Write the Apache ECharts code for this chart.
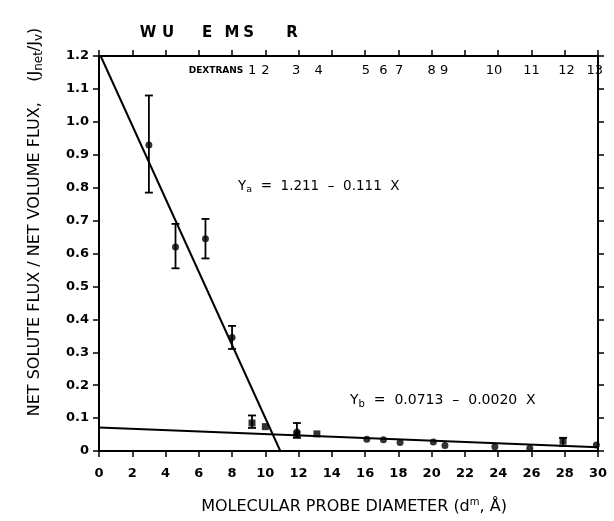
<!DOCTYPE html>
<html>
<head>
    <meta charset="UTF-8">
    <title>Net solute flux vs probe diameter</title>
    <script src="https://cdn.jsdelivr.net/npm/echarts@6/dist/echarts.min.js"></script>
</head>
<body style="margin:0">
    <div id="chart" style="width:614px;height:521px;"></div>
    <script type="text/javascript">
        var chart = echarts.init(document.getElementById('chart'));

        // data
        var upperX = [3.0, 4.6, 6.4, 8.0];
        var upperY = [0.93, 0.62, 0.645, 0.345];
        var upperLo = [0.785, 0.555, 0.585, 0.31];
        var upperHi = [1.08, 0.69, 0.705, 0.38];

        var circX = [11.9, 16.1, 17.1, 18.1, 20.1, 20.8, 23.8, 25.9, 29.9];
        var circY = [0.058, 0.036, 0.034, 0.026, 0.027, 0.017, 0.013, 0.008, 0.018];
        var sqX = [9.2, 10.0, 11.9, 13.1, 27.9];
        var sqY = [0.085, 0.074, 0.05, 0.052, 0.03];
        var lowErrX = [9.2, 11.9, 27.9];
        var lowErrLo = [0.07, 0.04, 0.015];
        var lowErrHi = [0.108, 0.085, 0.04];

        // fitted lines (endpoints)
        var fitA = [[0.1, 1.2], [10.9, 0.0]];
        var fitB = [[0, 0.0713], [30, 0.0113]];

        var topLetters = ['W', 'U', 'E', 'M', 'S', 'R'];
        var topLetterX = [2.95, 4.15, 6.5, 8.0, 9.0, 11.6];
        var dexLabels = ['1', '2', '3', '4', '5', '6', '7', '8', '9', '10', '11', '12', '13'];
        var dexX = [9.2, 10.0, 11.85, 13.2, 16.05, 17.1, 18.05, 20.0, 20.75, 23.75, 26.0, 28.1, 29.8];

        var FONT = 'DejaVu Sans';
        function zip(a, b) { return a.map(function (v, i) { return [v, b[i]]; }); }

        var errData = upperX.map(function (x, i) { return [x, upperLo[i], upperHi[i]]; })
            .concat(lowErrX.map(function (x, i) { return [x, lowErrLo[i], lowErrHi[i]]; }));

        function renderErr(params, api) {
            var lo = api.coord([api.value(0), api.value(1)]);
            var hi = api.coord([api.value(0), api.value(2)]);
            var w = 4;
            var st = { stroke: '#000', lineWidth: 1.8 };
            return {
                type: 'group',
                children: [
                    { type: 'line', shape: { x1: hi[0], y1: hi[1], x2: lo[0], y2: lo[1] }, style: st },
                    { type: 'line', shape: { x1: hi[0] - w, y1: hi[1], x2: hi[0] + w, y2: hi[1] }, style: st },
                    { type: 'line', shape: { x1: lo[0] - w, y1: lo[1], x2: lo[0] + w, y2: lo[1] }, style: st }
                ]
            };
        }

        var axisLine = { onZero: false, lineStyle: { color: '#000', width: 2 } };
        var axisTick = { lineStyle: { color: '#000', width: 1.5 }, length: 6 };

        var option = {
            animation: false,
            backgroundColor: '#fff',
            grid: { left: 99, right: 16, top: 56, bottom: 70 },
            xAxis: [
                {
                    type: 'value', min: 0, max: 30, interval: 2,
                    axisLine: axisLine, axisTick: axisTick, splitLine: { show: false },
                    axisLabel: { color: '#000', fontFamily: FONT, fontWeight: 'bold', fontSize: 13, margin: 16 }
                },
                {
                    type: 'value', position: 'top', min: 0, max: 30, interval: 2,
                    axisLine: axisLine, axisTick: axisTick, splitLine: { show: false },
                    axisLabel: { show: false }
                }
            ],
            yAxis: [
                {
                    type: 'value', min: 0, max: 1.2, interval: 0.1,
                    axisLine: axisLine, axisTick: axisTick, splitLine: { show: false },
                    axisLabel: {
                        color: '#000', fontFamily: FONT, fontWeight: 'bold', fontSize: 13, margin: 10,
                        formatter: function (v) { return v === 0 ? '0' : v.toFixed(1); }
                    }
                },
                {
                    type: 'value', position: 'right', min: 0, max: 1.2, interval: 0.1,
                    axisLine: axisLine, axisTick: axisTick, splitLine: { show: false },
                    axisLabel: { show: false }
                }
            ],
            series: [
                {
                    type: 'line', data: fitA, symbol: 'none', clip: false,
                    lineStyle: { color: '#000', width: 2 }
                },
                {
                    type: 'line', data: fitB, symbol: 'none',
                    lineStyle: { color: '#000', width: 2 }
                },
                {
                    type: 'custom', data: errData, renderItem: renderErr,
                    encode: { x: 0, y: [1, 2] }
                },
                {
                    type: 'scatter', data: zip(upperX, upperY), symbol: 'circle', symbolSize: 7,
                    itemStyle: { color: '#000' }
                },
                {
                    type: 'scatter', data: zip(circX, circY), symbol: 'circle', symbolSize: 7,
                    itemStyle: { color: '#000' }
                },
                {
                    type: 'scatter', data: zip(sqX, sqY), symbol: 'rect', symbolSize: 7,
                    itemStyle: { color: '#000' }
                }
            ]
        };

        chart.setOption(option);

        // text overlays placed through the axis scales
        var graphics = [];
        topLetters.forEach(function (t, i) {
            var p = chart.convertToPixel({ xAxisIndex: 0, yAxisIndex: 0 }, [topLetterX[i], 0]);
            graphics.push({
                type: 'text', x: p[0], y: 33,
                style: { text: t, fill: '#000', font: 'bold 15px ' + FONT, align: 'center', verticalAlign: 'middle' }
            });
        });
        dexLabels.forEach(function (t, i) {
            var p = chart.convertToPixel({ xAxisIndex: 0, yAxisIndex: 0 }, [dexX[i], 0]);
            graphics.push({
                type: 'text', x: p[0], y: 71,
                style: { text: t, fill: '#000', font: '13px ' + FONT, align: 'center', verticalAlign: 'middle' }
            });
        });
        graphics.push({
            type: 'text', x: 216, y: 71,
            style: { text: 'DEXTRANS', fill: '#000', font: 'bold 9px ' + FONT, align: 'center', verticalAlign: 'middle' }
        });
        function richSet(size) {
            return {
                a: { fontFamily: FONT, fontSize: size, fill: '#000' },
                sub: { fontFamily: FONT, fontSize: size - 4, fill: '#000', padding: [8, 0, 0, 0] },
                sup: { fontFamily: FONT, fontSize: size - 6, fill: '#000', padding: [0, 0, 9, 0] }
            };
        }
        graphics.push({
            type: 'text', x: 238, y: 186,
            style: { text: '{a|Y}{sub|a}{a|  =  1.211  –  0.111  X}', verticalAlign: 'middle', rich: richSet(13.5) }
        });
        graphics.push({
            type: 'text', x: 350, y: 400,
            style: { text: '{a|Y}{sub|b}{a|  =  0.0713  –  0.0020  X}', verticalAlign: 'middle', rich: richSet(14) }
        });
        graphics.push({
            type: 'text', x: 354, y: 507,
            style: {
                text: '{a|MOLECULAR PROBE DIAMETER (d}{sup|m}{a|, Å)}',
                align: 'center', verticalAlign: 'middle', rich: richSet(16)
            }
        });
        graphics.push({
            type: 'text', x: 35, y: 222, rotation: Math.PI / 2,
            style: {
                text: '{a|NET SOLUTE FLUX / NET VOLUME FLUX,    (J}{sub|net}{a|/J}{sub|v}{a|)}',
                align: 'center', verticalAlign: 'middle', rich: richSet(16)
            }
        });
        chart.setOption({ graphic: graphics });
    </script>
</body>
</html>
